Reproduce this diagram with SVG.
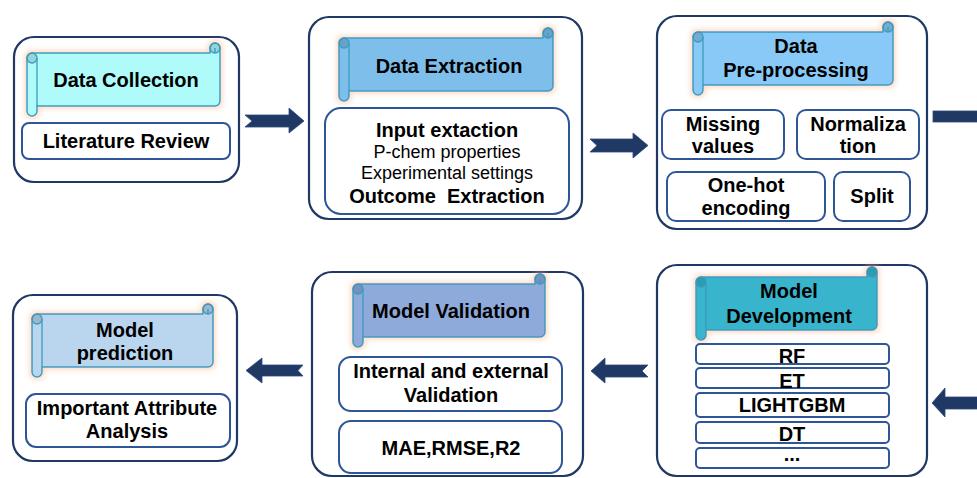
<svg xmlns="http://www.w3.org/2000/svg" width="977" height="478" viewBox="0 0 977 478">
<defs>
<filter id="glow" x="-10%" y="-25%" width="120%" height="150%">
<feMorphology in="SourceAlpha" operator="dilate" radius="2" result="d"/>
<feGaussianBlur in="d" stdDeviation="2.5" result="b"/>
<feFlood flood-color="#f4b183" flood-opacity="0.45"/>
<feComposite in2="b" operator="in" result="g"/>
<feMerge><feMergeNode in="g"/><feMergeNode in="SourceGraphic"/></feMerge>
</filter>
</defs>
<style>
.outer{fill:#fff;stroke:#1f3864;stroke-width:2.2}
.inner{fill:#fff;stroke:#2e5597;stroke-width:2}
.scroll{stroke:#3a9cc0;stroke-width:1.5;stroke-linejoin:round}
.curl{fill:#000;fill-opacity:.15;stroke:#3a9cc0;stroke-width:1.3}
.cl{fill:none;stroke:#3a9cc0;stroke-width:1.3}
text{font-family:"Liberation Sans",Arial,sans-serif;fill:#000;text-anchor:middle}
.b{font-weight:bold;font-size:20px}
.r{font-size:18px}
.arrow{fill:#203864;stroke:#2c4a80;stroke-width:.8}
</style>

<g id="data-collection">
<rect class="outer" x="14" y="37" width="225" height="145" rx="20"/>
<g transform="translate(27,43)" filter="url(#glow)">
<path class="scroll" fill="#aefbf9" d="M5,10 L183,10 L183,5 A5 5 0 0 1 193,5 L193,58 A5 5 0 0 1 188,63 L10,63 L10,68 A5 5 0 0 1 0,68 L0,15 A5 5 0 0 1 5,10 Z"/>
<circle class="curl" cx="188" cy="5" r="5"/>
<circle class="curl" cx="5" cy="15" r="5"/>
<path class="cl" d="M10,15 L10,63 M188,10 L188,5"/>
</g>
<text class="b" x="126" y="87">Data Collection</text>
<rect class="inner" x="22" y="123" width="208" height="36" rx="7"/>
<text class="b" x="126" y="148">Literature Review</text>
</g>

<g id="data-extraction">
<rect class="outer" x="309" y="17" width="273" height="202" rx="20"/>
<g transform="translate(339,28)" filter="url(#glow)">
<path class="scroll" fill="#7dbfea" d="M5,10 L204,10 L204,5 A5 5 0 0 1 214,5 L214,58 A5 5 0 0 1 209,63 L10,63 L10,68 A5 5 0 0 1 0,68 L0,15 A5 5 0 0 1 5,10 Z"/>
<circle class="curl" cx="209" cy="5" r="5"/>
<circle class="curl" cx="5" cy="15" r="5"/>
<path class="cl" d="M10,15 L10,63 M209,10 L209,5"/>
</g>
<text class="b" x="449" y="73">Data Extraction</text>
<rect class="inner" x="325" y="108" width="244" height="106" rx="16"/>
<text class="b" x="447" y="137">Input extaction</text>
<text class="r" x="447" y="158">P-chem properties</text>
<text class="r" x="447" y="179">Experimental settings</text>
<text class="b" x="447" y="203" xml:space="preserve">Outcome  Extraction</text>
</g>

<g id="data-preprocessing">
<rect class="outer" x="657" y="16" width="270" height="213" rx="20"/>
<g transform="translate(693,22)" filter="url(#glow)">
<path class="scroll" fill="#88c9f7" d="M5,10 L190,10 L190,5 A5 5 0 0 1 200,5 L200,58 A5 5 0 0 1 195,63 L10,63 L10,68 A5 5 0 0 1 0,68 L0,15 A5 5 0 0 1 5,10 Z"/>
<circle class="curl" cx="195" cy="5" r="5"/>
<circle class="curl" cx="5" cy="15" r="5"/>
<path class="cl" d="M10,15 L10,63 M195,10 L195,5"/>
</g>
<text class="b" x="796" y="53">Data</text>
<text class="b" x="796" y="77">Pre-processing</text>
<rect class="inner" x="662" y="110" width="122" height="49" rx="9"/>
<text class="b" x="723" y="131">Missing</text>
<text class="b" x="723" y="153">values</text>
<rect class="inner" x="797" y="110" width="122" height="49" rx="9"/>
<text class="b" x="858" y="131">Normaliza</text>
<text class="b" x="858" y="153">tion</text>
<rect class="inner" x="667" y="172" width="158" height="49" rx="9"/>
<text class="b" x="746" y="192">One-hot</text>
<text class="b" x="746" y="215">encoding</text>
<rect class="inner" x="834" y="172" width="76" height="49" rx="9"/>
<text class="b" x="872" y="203">Split</text>
</g>

<g id="model-development">
<rect class="outer" x="657" y="265" width="270" height="211" rx="20"/>
<g transform="translate(696,267)" filter="url(#glow)">
<path class="scroll" fill="#38b5cc" d="M5,10 L171,10 L171,5 A5 5 0 0 1 181,5 L181,58 A5 5 0 0 1 176,63 L10,63 L10,68 A5 5 0 0 1 0,68 L0,15 A5 5 0 0 1 5,10 Z"/>
<circle class="curl" cx="176" cy="5" r="5"/>
<circle class="curl" cx="5" cy="15" r="5"/>
<path class="cl" d="M10,15 L10,63 M176,10 L176,5"/>
</g>
<text class="b" x="789" y="298">Model</text>
<text class="b" x="789" y="323">Development</text>
<rect class="inner" x="696" y="344" width="193" height="20" rx="4"/>
<text class="b" x="792" y="363">RF</text>
<rect class="inner" x="696" y="368" width="193" height="20" rx="4"/>
<text class="b" x="792" y="388">ET</text>
<rect class="inner" x="696" y="393" width="193" height="24" rx="4"/>
<text class="b" x="792" y="412">LIGHTGBM</text>
<rect class="inner" x="696" y="422" width="193" height="21" rx="4"/>
<text class="b" x="792" y="441">DT</text>
<rect class="inner" x="696" y="448" width="193" height="20" rx="4"/>
<text class="b" x="792" y="461">...</text>
</g>

<g id="model-validation">
<rect class="outer" x="312" y="272" width="271" height="204" rx="20"/>
<g transform="translate(353,274)" filter="url(#glow)">
<path class="scroll" fill="#8eaadb" d="M5,10 L182,10 L182,5 A5 5 0 0 1 192,5 L192,58 A5 5 0 0 1 187,63 L10,63 L10,68 A5 5 0 0 1 0,68 L0,15 A5 5 0 0 1 5,10 Z"/>
<circle class="curl" cx="187" cy="5" r="5"/>
<circle class="curl" cx="5" cy="15" r="5"/>
<path class="cl" d="M10,15 L10,63 M187,10 L187,5"/>
</g>
<text class="b" x="451" y="318">Model Validation</text>
<rect class="inner" x="339" y="357" width="223" height="54" rx="12"/>
<text class="b" x="451" y="378">Internal and external</text>
<text class="b" x="451" y="402">Validation</text>
<rect class="inner" x="339" y="421" width="223" height="52" rx="12"/>
<text class="b" x="451" y="455">MAE,RMSE,R2</text>
</g>

<g id="model-prediction">
<rect class="outer" x="13" y="295" width="224" height="166" rx="20"/>
<g transform="translate(32,304)" filter="url(#glow)">
<path class="scroll" fill="#bad5ee" d="M5,10 L171,10 L171,5 A5 5 0 0 1 181,5 L181,58 A5 5 0 0 1 176,63 L10,63 L10,68 A5 5 0 0 1 0,68 L0,15 A5 5 0 0 1 5,10 Z"/>
<circle class="curl" cx="176" cy="5" r="5"/>
<circle class="curl" cx="5" cy="15" r="5"/>
<path class="cl" d="M10,15 L10,63 M176,10 L176,5"/>
</g>
<text class="b" x="125" y="337">Model</text>
<text class="b" x="125" y="360">prediction</text>
<rect class="inner" x="26" y="394" width="204" height="53" rx="10"/>
<text class="b" x="127" y="415">Important Attribute</text>
<text class="b" x="127" y="438">Analysis</text>
</g>

<g id="connectors">
<path class="arrow" d="M245,115 L289,115 L289,108 L304,121 L289,133 L289,127 L245,127 L252,121 Z"/>
<path class="arrow" d="M590,139 L633,139 L633,133 L648,145.5 L633,158 L633,152 L590,152 L597,145.5 Z"/>
<rect class="arrow" x="933" y="111" width="50" height="11"/>
<path class="arrow" d="M982,397 L945,397 L945,388 L932,403 L945,417 L945,409 L982,409 Z"/>
<path class="arrow" d="M648,365 L605,365 L605,358 L591,371 L605,383 L605,377 L648,377 L642,371 Z"/>
<path class="arrow" d="M303,365 L262,365 L262,358 L246,370.5 L262,383 L262,376 L303,376 L298,370.5 Z"/>
</g>
</svg>
